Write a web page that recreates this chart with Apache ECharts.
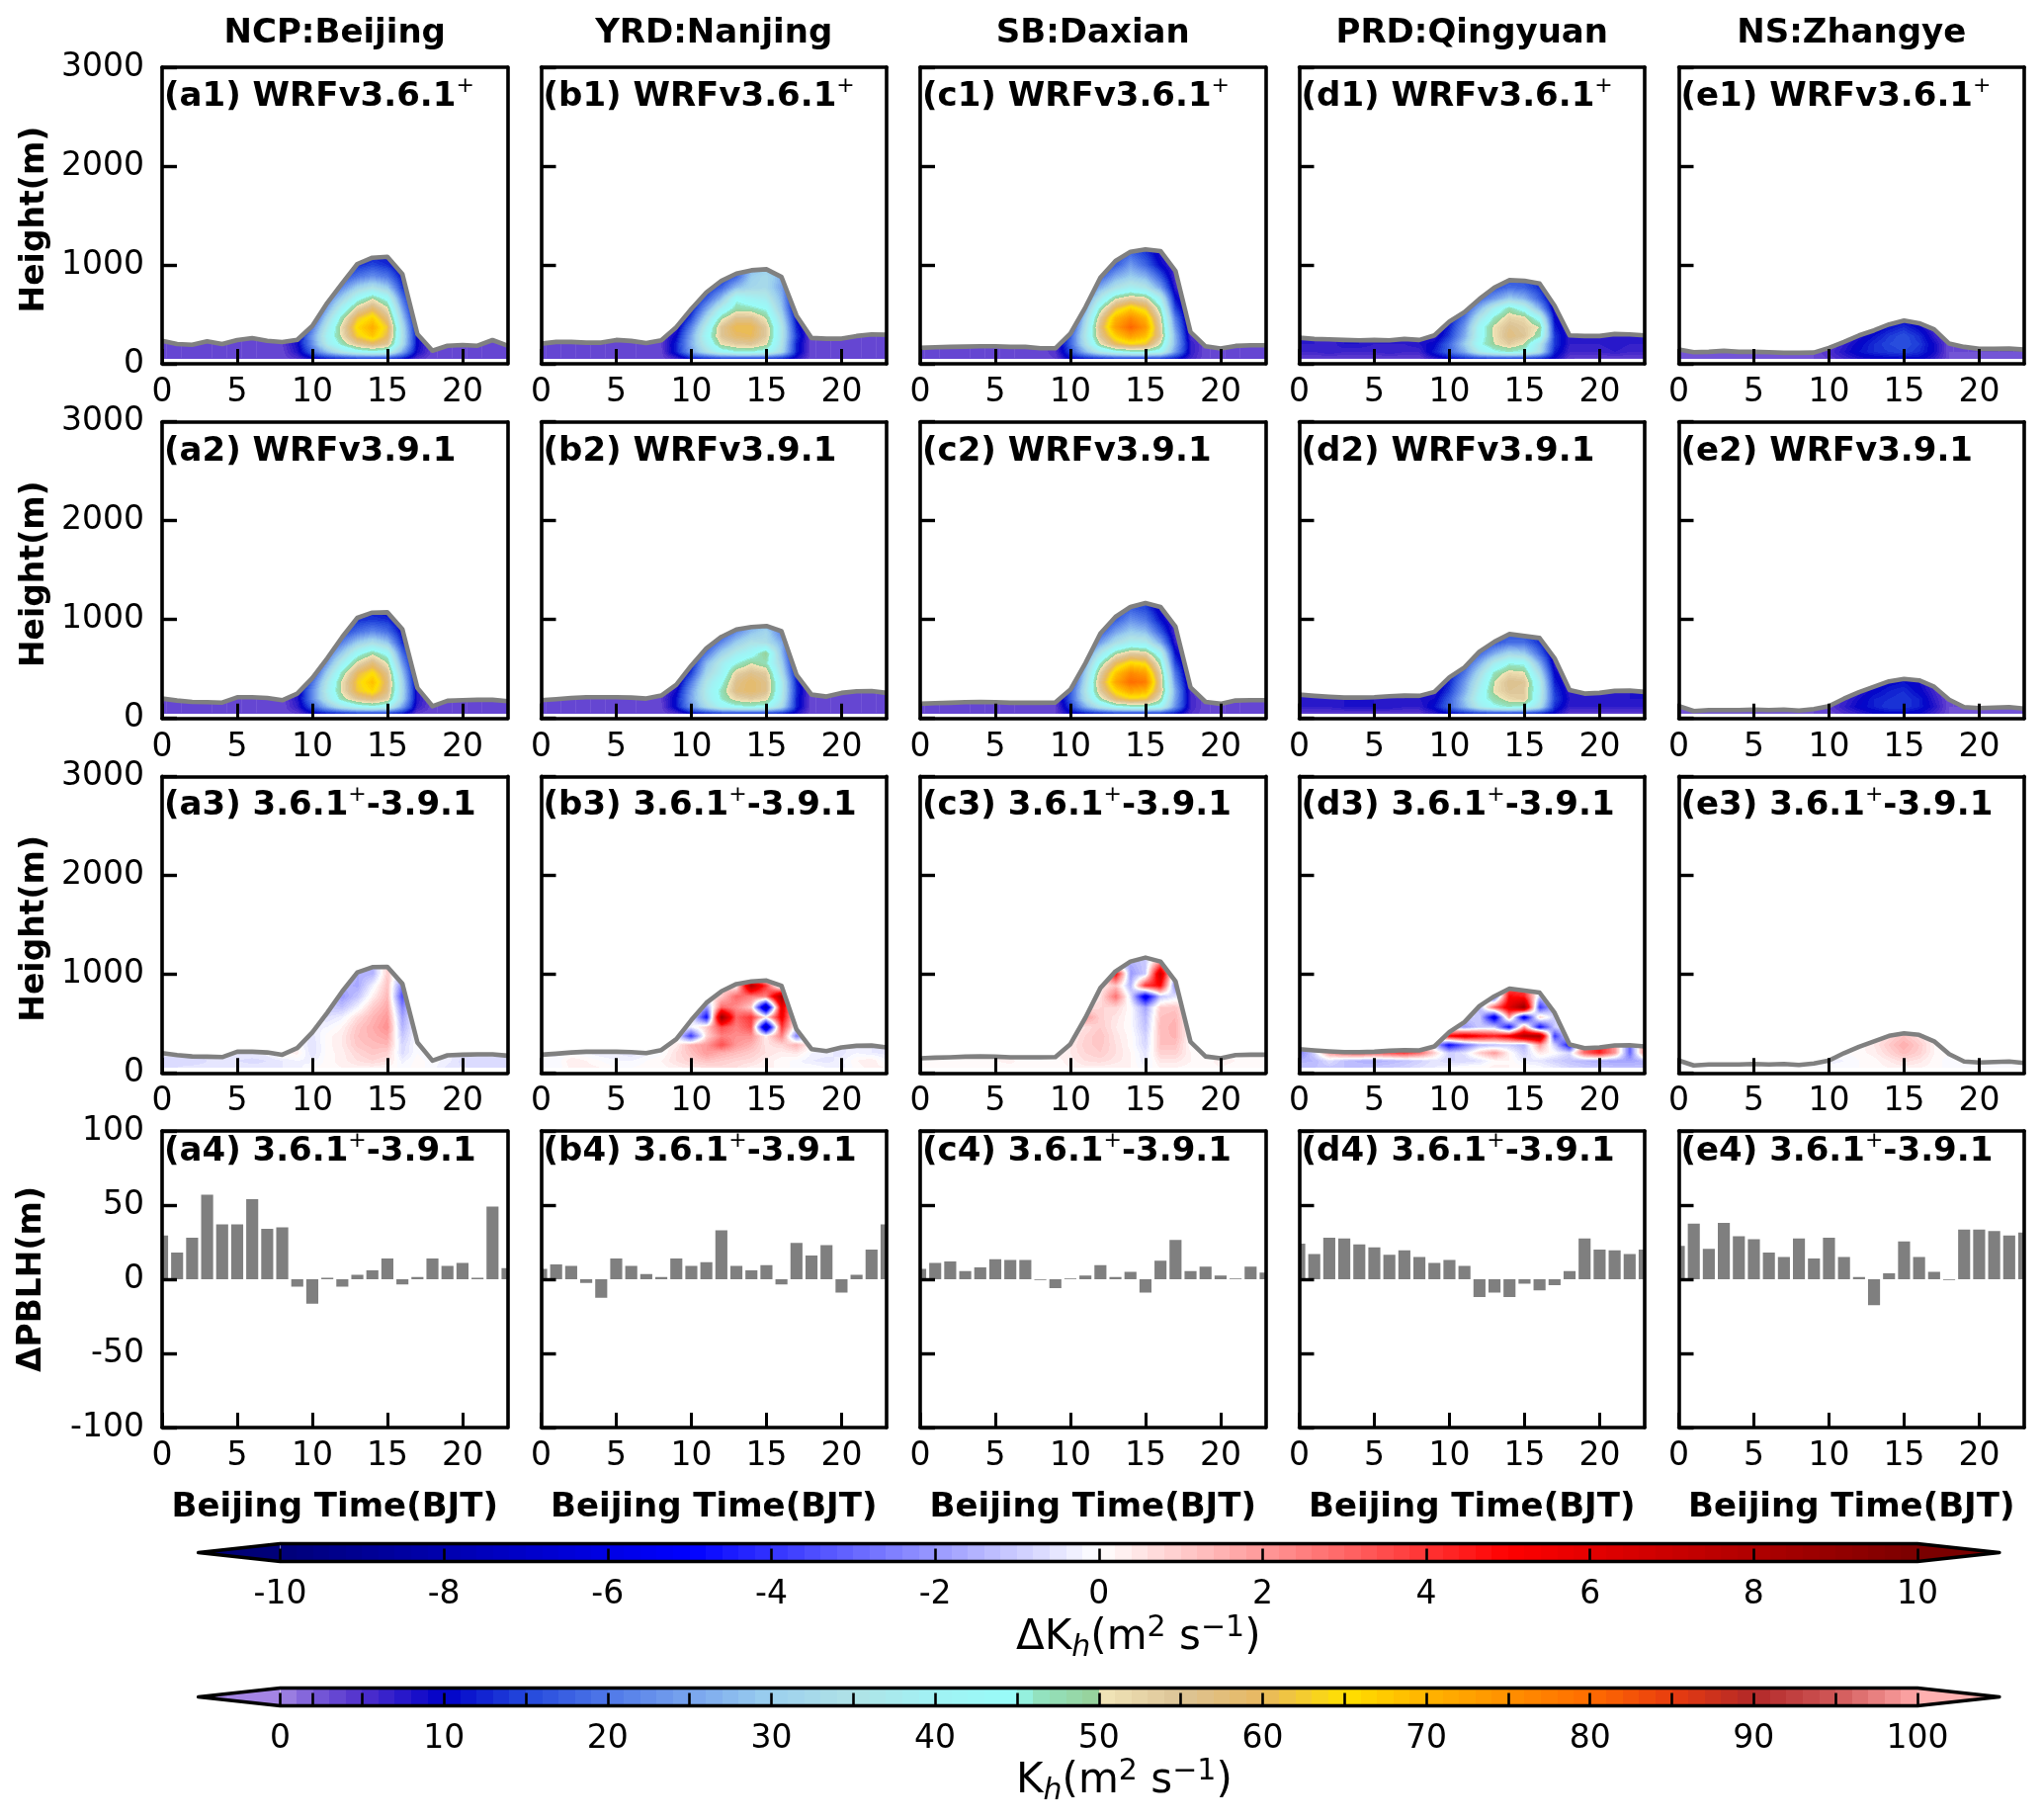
<!DOCTYPE html>
<html><head><meta charset="utf-8">
<style>html,body{margin:0;padding:0;background:#fff}#c{width:2067px;height:1841px}</style>
<script src="https://cdn.jsdelivr.net/npm/echarts@6/dist/echarts.min.js"></script>
</head><body><div id="c"></div>
<script>
// ---------- data ----------
const siteTitles=['NCP:Beijing','YRD:Nanjing','SB:Daxian','PRD:Qingyuan','NS:Zhangye'];
const letters=['a','b','c','d','e'];
const lowLevels=[50,120,200];          // rows with all 24 hours
const highLevels=[280,370,460,560,660,770,880,1000,1120]; // rows with hours 9..18
const topLevel=1200;
const dayStart=9;

const pblh_a1=[233,200,193,227,200,240,260,233,220,243,383,617,817,1010,1073,1083,907,300,133,183,190,183,240,183];
const pblh_a2=[201,181,167,164,160,214,214,207,184,251,409,609,825,1017,1070,1073,902,308,124,178,184,188,188,174];
const pblh_b1=[204,221,221,214,214,241,231,210,237,371,555,722,839,913,946,956,879,488,261,254,254,281,297,294];
const pblh_b2=[184,194,207,214,214,214,211,201,231,341,535,709,825,899,925,935,882,441,241,221,258,274,277,258];
const pblh_c1=[161,167,171,174,177,177,171,171,157,157,305,572,873,1040,1133,1157,1140,939,321,177,154,181,187,187];
const pblh_c2=[148,154,158,164,167,164,158,158,158,161,291,558,859,1027,1127,1167,1127,927,314,167,148,181,184,184];
const pblh_d1=[264,251,247,241,237,241,237,251,241,287,428,522,656,772,846,839,812,588,287,281,281,301,297,287];
const pblh_d2=[241,228,218,211,211,214,224,231,228,268,415,515,676,776,853,833,813,609,288,251,258,278,281,268];
const pblh_e1=[144,117,121,131,121,121,117,111,111,114,161,221,287,338,398,438,411,348,204,171,151,151,154,144];
const pblh_e2=[125,75,85,85,85,90,85,90,80,95,125,200,265,320,375,400,385,320,190,115,105,110,115,100];

const dPblh_a=[29.5,18,28,57,37,37,54,34,35,-5,-16.5,1,-5,3,6,14,-3.5,1.5,14,9,11,1,49,7.5];
const dPblh_b=[7,10,9,-2.5,-12.5,14,9,3.5,1.5,14,9,11.5,33,9,6,9.5,-3.5,24.5,16,23,-9,3,20,37];
const dPblh_c=[7,11,12,5.5,8,13.5,13,13,-0.5,-6,0.5,2.5,9.5,1.5,5,-9,12.5,26.5,5.5,8.5,2.5,0.5,8.5,4.5];
const dPblh_d=[24,17,28,27.5,23.5,21.5,16.5,19.5,15,11,13,9,-12,-9,-12,-3,-7.5,-4,5.5,27.5,20,19.5,17,20];
const dPblh_e=[22.5,37.5,20.5,38,29,27,18,15,27.5,14,28,15,1.5,-17.5,4,25.5,15,5,-0.5,33.5,33.5,32.5,29.5,31.5];

const kh_a1_low=[
[3,3,3,3,3,3,3,3,3,5,9,11,12,13,13,13,11,5,3,3,3,3,3,3],
[3,3,3,3,3,3,3,3,3.5,8,18,28,36,42,44,42,26,9,3,3,3,3,3,3],
[3,3,3,3,3,3,3,3,4,9,23,38,47,55,59,55,34,10,3,3,3,3,3,3]];
const kh_a1_high=[
[8,24,40,51,63,68,60,35,10,3],[6,20,37,52,66,71,62,34,9,3],[5,14,32,48,62,67,57,30,7,3],
[5,10,25,40,53,59,51,25,5,3],[5,8,20,31,43,50,43,20,5,3],[5,6,14,22,31,35,30,14,5,3],
[5,6,10,15,20,23,20,11,5,3],[5,6,8,10,13,15,13,8,5,3],[5,5,6,8,10,11,10,7,5,3]];
const kh_a2_low=[
[3,3,3,3,3,3,3,3,3,4,9,11,12,13,13,13,11,4,3,3,3,3,3,3],
[3,3,3,3,3,3,3,3,3,7,17,27,36,42,44,41,25,7,3,3,3,3,3,3],
[3,3,3,3,3,3,3,3,3,8,22,36,48,55,58,53,32,8,3,3,3,3,3,3]];
const kh_a2_high=[
[7,22,38,51,62,66,57,33,8,3],[6,19,36,51,63,69,58,32,7,3],[5,13,31,47,60,65,56,29,6,3],
[5,10,24,39,52,58,50,24,5,3],[5,8,19,30,43,49,43,19,5,3],[5,6,13,21,30,34,29,13,5,3],
[5,6,10,14,19,22,19,10,5,3],[5,6,8,10,13,14,13,8,5,3],[5,5,6,8,10,11,9,7,5,3]];
const kh_b1_low=[
[3,3,3,3,3,3,3,3,3,6,11,12,13,13,13,13,12,8,3,3,3,3,3,3],
[3,3,3,3,3,3,3,3,3.5,12,24,34,42,45,45,43,33,12,3,3,3,3,3,3],
[3,3,3,3,3,3,3,3,4,12,26,39,51,54,55,51,35,12,3,3,3,3,3,3]];
const kh_b1_high=[
[10,25,42,55,59,60,54,36,14,3],[7,21,39,55,61,61,54,36,12,3],[5,15,33,49,56,56,50,33,10,3],
[5,10,25,39,48,47,44,29,7,3],[5,9,17,28,44,40,38,27,5,3],[5,8,12,18,28,32,33,25,5,3],
[5,8,10,12,18,30,33,26,5,3],[5,8,10,12,14,25,28,20,5,3]];
const kh_b2_low=[
[3,3,3,3,3,3,3,3,3,5,10,12,13,13,13,13,12,8,3,3,3,3,3,3],
[3,3,3,3,3,3,3,3,3.5,11,23,33,41,44,45,43,33,12,3,3,3,3,3,3],
[3,3,3,3,3,3,3,3,4,11,25,37,46,52,54,52,37,12,3,3,3,3,3,3]];
const kh_b2_high=[
[9,24,38,47,57,59,56,38,13,3],[6,20,36,44,56,59,56,38,12,3],[5,14,32,40,53,56,54,34,10,3],
[5,10,28,38,45,50,47,31,7,3],[5,9,20,31,38,42,50,28,5,3],[5,8,13,22,30,35,34,26,5,3],
[5,8,10,14,22,28,32,20,5,3],[5,8,10,12,16,24,22,14,5,3]];
const kh_c1_low=[
[3,3,3,3,3,3,3,3,3,4,10,11,12,13,13,13,13,11,6,3,3,3,3,3],
[3,3,3,3,3,3,3,3,3,5,15,27,37,43,45,45,42,24,7,3,3,3,3,3],
[3,3,3,3,3,3,3,3,3,5,18,34,50,60,64,62,50,27,7,3,3,3,3,3]];
const kh_c1_high=[
[4,17,36,55,67,73,69,55,27,5],[3,13,34,57,73,81,74,54,24,4],[3,10,31,54,70,76,70,52,21,3],
[3,7,25,47,61,67,62,47,15,3],[3,6,20,37,50,54,52,39,11,3],[3,5,13,26,35,39,36,25,7,3],
[3,5,9,17,26,30,27,17,5,3],[3,5,8,11,17,24,18,10,5,3],[3,5,7,9,13,18,14,8,5,3]];
const kh_c2_low=[
[3,3,3,3,3,3,3,3,3,4,9,11,12,13,13,13,13,11,5,3,3,3,3,3],
[3,3,3,3,3,3,3,3,3,4,14,26,36,43,45,45,42,23,6,3,3,3,3,3],
[3,3,3,3,3,3,3,3,3,4,17,33,48,59,63,62,50,25,6,3,3,3,3,3]];
const kh_c2_high=[
[4,16,35,54,66,72,70,55,26,5],[3,12,33,56,72,80,78,55,23,4],[3,10,30,53,68,76,73,53,20,3],
[3,7,25,46,60,66,64,48,15,3],[3,6,19,36,49,54,53,41,11,3],[3,5,12,24,34,39,38,26,7,3],
[3,5,9,16,25,30,28,17,5,3],[3,5,8,11,17,23,20,11,5,3],[3,5,7,9,13,17,15,8,5,3]];
const kh_d1_low=[
[3.5,3.5,3.5,3.5,3.5,3.5,3.5,3.5,3.5,7,10,12,13,13,13,13,12,9,4,3.5,3.5,3.5,3.5,3.5],
[6,6,7,6,6,6,7,6,6,12,18,26,38,44,46,44,34,12,6,6,6,7,6,6],
[7,7,6,8,8,7,7,7,8,10,18,30,44,50,54,50,36,14,7,7,7,8,7,7]];
const kh_d1_high=[
[7,14,26,42,51,57,55,47,14,7],[6,12,24,42,51,56,54,50,12,6],[5,10,20,36,47,53,52,42,10,5],
[5,9,15,27,39,48,42,26,7,4],[5,8,12,18,24,30,27,17,6,4],[5,8,11,14,16,19,18,13,6,4],
[5,8,10,12,14,15,15,12,6,4]];
const kh_d2_low=[
[4,4,4,4,4,4,4,4,4,7,10,12,13,13,13,13,12,9,4,4,4,4,4,4],
[7,7,7,8,8,8,8,7,7,11,18,27,38,44,46,44,34,13,7,7,7,7,7,7],
[7,7,8,8,8,8,7,8,8,9,17,29,42,48,52,54,38,15,8,7,8,7,8,8]];
const kh_d2_high=[
[7,14,26,40,51,55,54,39,14,7],[6,12,24,37,50,56,55,38,12,6],[5,10,20,33,47,52,51,33,10,5],
[5,9,16,26,38,45,44,26,7,4],[5,8,12,18,26,32,30,18,6,4],[5,8,11,13,16,19,19,13,6,4],
[5,8,10,12,14,15,15,12,6,4]];
const kh_e1_low=[
[2.5,2.5,2.5,2.5,2.5,2.5,2.5,2.5,2.5,3,4,6,8,9,10,10,10,7,3,2.5,2.5,2.5,2.5,2.5],
[3,3,3,3,3,3,3,3,3,3,5,8,11,13,14,15,13,9,3,3,3,3,3,3],
[3,3,3,3,3,3,3,3,3,3,4,7,10,13,15,16,14,9,3,3,3,3,3,3]];
const kh_e1_high=[[3,3,5,8,11,14,16,13,7,3],[3,3,4,6,8,11,13,10,5,3],[3,3,3,5,7,9,10,8,4,3]];
const kh_e2_low=[
[2.5,2.5,2.5,2.5,2.5,2.5,2.5,2.5,2.5,3,3,5,7,9,10,10,9,6,3,2.5,2.5,2.5,2.5,2.5],
[3,3,3,3,3,3,3,3,3,3,4,7,10,12,14,14,12,8,3,3,3,3,3,3],
[3,3,3,3,3,3,3,3,3,3,4,6,9,12,13,14,12,7,3,3,3,3,3,3]];
const kh_e2_high=[[3,3,5,7,10,12,13,10,6,3],[3,3,4,6,8,10,11,9,5,3],[3,3,3,5,6,8,9,7,4,3]];

const dk_a_low=[
[-.6,-.6,-.5,-.5,-.5,-.4,-.5,-.5,-.4,-.3,0,.1,.2,.3,.3,.2,-.1,.1,-.1,-.5,-.6,-.6,-.6,-.6],
[-.7,-.7,-.8,-.6,-.6,-.6,-.7,-.6,-.4,-.2,-.3,.1,.3,.6,.8,.6,-.3,.1,-.1,-.3,-.7,-.8,-.7,-.7],
[-.5,-.5,-.5,-.4,-.4,-.4,-.4,-.3,.3,.3,-.6,.1,.3,.8,1.1,.9,-.7,0,-.3,-.3,-.5,-.5,-.5,-.5]];
const dk_a_high=[
[0,-.6,.1,.4,1.1,1.3,1.4,-.8,0,0],[0,-.5,.1,.4,1.2,1.5,1.8,-1.1,0,0],[0,-.3,-.2,.2,1.1,1.6,2.2,-1.5,0,0],
[0,-.2,-.6,-.3,.7,1.4,2,-1.8,0,0],[0,0,-1,-1.2,-.2,1,1.7,-2.4,0,0],[0,0,-.8,-2,-1.1,.3,1.4,-3.5,0,0],
[0,0,-.5,-1.4,-1.7,-.3,1.2,-2.5,0,0],[0,0,0,-.5,-1.6,-1.5,1,-1,0,0]];
const dk_b_low=[
[0,-.2,.3,.3,.2,0,0,.1,.1,.3,.5,.6,.7,.6,.3,.2,.2,-.2,0,-.2,-.3,.1,.3,.2],
[-.1,-.2,.4,.2,0,-.2,-.2,0,.2,.6,.9,1.2,1,.8,.7,.3,.1,-.1,-.4,-.5,-.3,.2,.4,-.2],
[-.3,-.2,-.1,-.2,-.4,-.4,-.6,-.3,-.1,.6,1.2,2,1.6,1.3,1,.6,.3,.5,-.2,-.3,-.5,-.2,-.4,-.5]];
const dk_b_high=[
[.3,1.5,2,3.5,2,1.5,.5,.8,1.5,0],[0,-4,.8,2.5,2.2,2.2,.3,2.5,-2.5,0],[0,-.3,1,3.5,2.5,3.5,-8,4,-.5,0],
[0,0,-5,9,3,4,.5,5.5,0,0],[0,0,-2,3,2.2,1,-8,6,0,0],[0,0,0,1,3,2.5,2.5,8.5,0,0],
[0,0,0,1,0,8,4,-2,0,0],[0,0,0,0,0,0,-3,0,0,0]];
const dk_c_low=[
[0,0,.1,.1,.1,0,.1,.1,.1,.1,.2,.3,.3,.2,.2,-.2,.2,.2,.1,.1,.2,.1,.1,.1],
[.1,.2,.2,.1,0,.2,.3,0,0,.1,.3,.6,.7,.5,.2,-.4,.5,.5,.2,.1,.3,.2,.1,.1],
[.1,.1,.1,.1,.1,.1,.1,-.1,-.2,.2,.4,.8,1,.6,.2,-.5,.9,.9,.2,.1,.1,.1,.1,0]];
const dk_c_high=[
[0,.4,.9,1.1,.6,.1,-.8,1.2,1.2,0],[0,.3,.8,1.2,.5,.1,-.9,1.2,1.5,0],[0,.2,.6,1,.4,0,-1.2,1.3,1.5,0],
[0,0,2,.9,.5,0,-1.4,1.2,1.4,0],[0,0,.4,.8,.8,0,-1.8,1,1.1,0],[0,0,0,.5,2.8,-.6,-6,-1.2,-.5,0],
[0,0,0,.2,1.2,-1.5,4,5,-2.5,0],[0,0,0,0,5,-2,-1,7,-1.5,0],[0,0,0,0,-3,-1.5,-1,2,-1,0]];
const dk_d_low=[
[-1.2,-1.2,-1.1,-1.2,-1.2,-1.1,-1,-.9,-.6,-.4,-.2,.1,.1,.3,.2,.1,-.1,-.4,-.8,-1,-1.1,-1.2,-1.2,-1.3],
[-1.5,-1.4,-.6,-1.2,-1.5,-1.6,-1.4,-1.2,-.9,-.5,-.8,-.8,-.6,.1,.2,-.4,-.5,-.9,-1.2,-1.4,-1.6,-1.8,-1.8,-1.5],
[-2.5,-.8,2,3,3.5,3,3.5,4,3,1,-1,-.5,1,2,.2,-1,.5,0,-.8,3,4.5,2,-3,2.5]];
const dk_d_high=[
[-1,-5,-3,-1.5,-1.2,-1,-1.5,2,-1,-5],[0,5,6,5,4.5,5.5,8,8.5,-4,0],[0,-1,-2,-1,-1,-5,2,-5,-1,0],
[0,0,-1,-1,-6,2,-6,1,-1,0],[0,0,0,-1.5,3,6,9,-4,-1,0],[0,0,0,0,-3.5,5,4.5,-1,0,0],[0,0,0,0,0,3,3,0,0,0]];
const dk_e_low=[
[-.1,-.1,-.1,-.1,-.1,-.1,-.1,-.1,-.1,0,-.1,-.1,0,.1,.2,.3,.2,.1,-.1,-.1,-.1,-.1,-.1,-.1],
[-.1,-.1,-.1,-.1,-.1,-.1,-.1,-.1,-.1,-.1,-.3,-.2,0,.1,.4,.7,.5,.1,-.1,-.1,-.1,-.1,-.1,-.1],
[0,0,0,0,0,0,0,0,0,-.1,-.2,0,.1,.3,.8,1.3,.9,.2,0,0,0,0,0,0]];
const dk_e_high=[[0,0,0,.1,.4,1,1.6,1,.2,0],[0,0,0,0,.2,.7,1.2,.6,.1,0]];

const kTicks=[0,2,5,10,15,20,25,30,35,40,45,50,55,60,65,70,75,80,85,90,95,100];
const kLabels=[0,10,20,30,40,50,60,70,80,90,100];
const dkTicks=[-10,-8,-6,-4,-2,0,2,4,6,8,10];
const barFraction=0.8;

// colour scales
const kStops=[0,2,5,10,15,20,25,30,35,40,45,46,50,50.01,55,60,65,70,75,80,85,90,95,100];
const kColors=['#a488e4','#7a5cd8','#5030cc','#0000c8','#2448dc','#4f78e8','#78a4ee','#9cd0ee','#b0e2e6','#a0f2f4','#98fcf8','#92e4c4','#98d098','#f2e6ba','#dcc496','#e8b860','#ffe000','#ffb400','#ff9000','#ff6c00','#e83c10','#b22828','#d05858','#ffa8a8'];
const kUnder='#a484e4', kOver='#ffb0b0';
const dStops=[-10,-5,0,5,10];
const dColors=['#000078','#0000ff','#ffffff','#ff0000','#7a0000'];

// ---------- helpers ----------
const FONT='DejaVu Sans';
const hex=c=>[1,3,5].map(i=>parseInt(c.substr(i,2),16));
function ramp(stops,cols,v){
  if(v<=stops[0])return hex(cols[0]);
  for(let i=1;i<stops.length;i++){ if(v<=stops[i]){const t=(v-stops[i-1])/(stops[i]-stops[i-1]);const a=hex(cols[i-1]),b=hex(cols[i]);return a.map((x,k)=>Math.round(x+(b[k]-x)*t));}}
  return hex(cols[cols.length-1]);
}
const kSteps=[];for(let i=0;i<100;i++)kSteps.push(ramp(kStops,kColors,i+.5));
const dSteps=[];for(let i=0;i<100;i++)dSteps.push(ramp(dStops,dColors,-10+.2*i+.1));
const kLookup=v=>v<0?hex(kUnder):v>=100?hex(kOver):kSteps[Math.floor(v)];
const dLookup=v=>v<-10?hex(dColors[0]):v>=10?hex(dColors[4]):dSteps[Math.min(99,Math.floor((v+10)/.2))];
const allLevels=lowLevels.concat(highLevels,[topLevel]);
function fieldOf(low,high){
  return (h,zi)=>{
    if(zi<lowLevels.length)return low[zi][h];
    if(h<dayStart||h>=dayStart+10)return low[lowLevels.length-1][h];
    const r=Math.min(zi-lowLevels.length,high.length-1);
    return high[r][h-dayStart];
  };
}
function renderCell(field,pblh,lookup){
  return function(params,api){
    const h=api.value(0),zi=api.value(2),z0=allLevels[zi],z1=allLevels[zi+1];
    if(z0>Math.max(pblh[h],pblh[h+1]))return null;
    const a=api.coord([h,z0]),b=api.coord([h+1,z1]);
    const x0=Math.round(a[0]),x1=Math.round(b[0]),yB=Math.round(a[1]),yT=Math.round(b[1]);
    const w=x1-x0,ht=yB-yT; if(w<=0||ht<=0)return null;
    const cv=document.createElement('canvas');cv.width=w;cv.height=ht;
    const ctx=cv.getContext('2d'),img=ctx.createImageData(w,ht);
    const f00=field(h,zi),f10=field(h+1,zi),f01=field(h,zi+1),f11=field(h+1,zi+1);
    for(let py=0;py<ht;py++){const tz=(ht-py-.5)/ht,zz=z0+tz*(z1-z0);
      for(let px=0;px<w;px++){const tx=(px+.5)/w;
        const top=pblh[h]+(pblh[h+1]-pblh[h])*tx; if(zz>top)continue;
        const v=(f00*(1-tx)+f10*tx)*(1-tz)+(f01*(1-tx)+f11*tx)*tz;
        const c=lookup(v),o=(py*w+px)*4;
        img.data[o]=c[0];img.data[o+1]=c[1];img.data[o+2]=c[2];img.data[o+3]=255;
      }}
    ctx.putImageData(img,0,0);
    return {type:'image',style:{image:cv,x:x0,y:yT,width:w,height:ht}};
  };
}
// ---------- layout ----------
const colX=[164,547.5,931,1314.5,1698.5],axW=349.5,rowY=[68,426.7,785.3,1144],axH=300;
const hours=Array.from({length:24},(_,i)=>i);
const grids=[],xAxes=[],yAxes=[],series=[],titles=[];
const lineAx={show:true,onZero:false,lineStyle:{color:'#000',width:3.6}};
const richLabel={
  b:{fontFamily:FONT,fontWeight:'bold',fontSize:34,lineHeight:44,color:'#000'},
  s:{fontFamily:FONT,fontWeight:'normal',fontSize:22,lineHeight:22,verticalAlign:'top',color:'#000'}
};
const rowFields=[
 ['a1','b1','c1','d1','e1'],['a2','b2','c2','d2','e2'],['a','b','c','d','e']];
const SRC={a1:[kh_a1_low,kh_a1_high,pblh_a1],b1:[kh_b1_low,kh_b1_high,pblh_b1],c1:[kh_c1_low,kh_c1_high,pblh_c1],d1:[kh_d1_low,kh_d1_high,pblh_d1],e1:[kh_e1_low,kh_e1_high,pblh_e1],
 a2:[kh_a2_low,kh_a2_high,pblh_a2],b2:[kh_b2_low,kh_b2_high,pblh_b2],c2:[kh_c2_low,kh_c2_high,pblh_c2],d2:[kh_d2_low,kh_d2_high,pblh_d2],e2:[kh_e2_low,kh_e2_high,pblh_e2],
 a:[dk_a_low,dk_a_high,pblh_a2],b:[dk_b_low,dk_b_high,pblh_b2],c:[dk_c_low,dk_c_high,pblh_c2],d:[dk_d_low,dk_d_high,pblh_d2],e:[dk_e_low,dk_e_high,pblh_e2]};
const dPblh=[dPblh_a,dPblh_b,dPblh_c,dPblh_d,dPblh_e];
const labelTail=[['{b|WRFv3.6.1}{s|+}'],['{b|WRFv3.9.1}'],['{b|3.6.1}{s|+}{b|-3.9.1}'],['{b|3.6.1}{s|+}{b|-3.9.1}']];
const labelOffset=[30,30,30,21];

for(let r=0;r<4;r++)for(let c=0;c<5;c++){
  const gi=grids.length;
  grids.push({left:colX[c],top:rowY[r],width:axW,height:axH,show:false});
  const xi=xAxes.length;
  xAxes.push({gridIndex:gi,type:'value',min:0,max:23,interval:5,position:'bottom',z:10,splitLine:{show:false},
    axisLine:lineAx,axisTick:{show:true,inside:true,length:15,lineStyle:{color:'#000',width:3}},
    axisLabel:{show:true,showMaxLabel:false,margin:13,fontFamily:FONT,fontSize:33,color:'#000'},
    name:r===3?'Beijing Time(BJT)':'',nameLocation:'middle',nameGap:64,
    nameTextStyle:{fontFamily:FONT,fontWeight:'bold',fontSize:34,color:'#000'}});
  xAxes.push({gridIndex:gi,type:'value',min:0,max:23,position:'top',z:10,splitLine:{show:false},axisLine:lineAx,axisTick:{show:false},axisLabel:{show:false}});
  const yi=yAxes.length;
  const yCfg=r===3?{min:-100,max:100,interval:50}:{min:0,max:3000,interval:1000};
  yAxes.push(Object.assign({gridIndex:gi,type:'value',position:'left',z:10,splitLine:{show:false},
    axisLine:lineAx,axisTick:{show:true,inside:true,length:15,lineStyle:{color:'#000',width:3.4}},
    axisLabel:{show:c===0,margin:18,fontFamily:FONT,fontSize:33,color:'#000',padding:[3,0,0,0],formatter:v=>String(v)},
    name:c===0?(r===3?'ΔPBLH(m)':'Height(m)'):'',nameLocation:'middle',nameGap:r===3?115:112,
    nameTextStyle:{fontFamily:FONT,fontWeight:'bold',fontSize:33,color:'#000',padding:r===3?0:[0,8,0,0]}},yCfg));
  yAxes.push(Object.assign({gridIndex:gi,type:'value',position:'right',z:10,splitLine:{show:false},axisLine:lineAx,axisTick:{show:false},axisLabel:{show:false}},yCfg));
  if(r<3){
    const src=SRC[rowFields[r][c]],field=fieldOf(src[0],src[1]),pb=src[2];
    const cells=[];
    for(let h=0;h<23;h++)for(let zi=0;zi<allLevels.length-1;zi++)cells.push([h,allLevels[zi],zi,field(h,zi)]);
    series.push({type:'custom',xAxisIndex:xi,yAxisIndex:yi,coordinateSystem:'cartesian2d',clip:true,silent:true,z:2,
      encode:{x:0,y:1},data:cells,animation:false,renderItem:renderCell(field,pb,r<2?kLookup:dLookup)});
    series.push({type:'line',xAxisIndex:xi,yAxisIndex:yi,data:hours.map(h=>[h,pb[h]]),symbol:'none',clip:true,silent:true,z:3,
      lineStyle:{color:'#808080',width:4.6,join:'round'},animation:false});
  }else{
    series.push({type:'custom',xAxisIndex:xi,yAxisIndex:yi,coordinateSystem:'cartesian2d',clip:true,silent:true,z:2,animation:false,
      encode:{x:0,y:1},data:hours.map(h=>[h,dPblh[c][h]]),
      renderItem:(p,api)=>{const h=api.value(0),v=api.value(1);
        const a=api.coord([h-barFraction/2,Math.max(v,0)]),b=api.coord([h+barFraction/2,Math.min(v,0)]);
        return {type:'rect',shape:{x:a[0],y:a[1],width:b[0]-a[0],height:b[1]-a[1]},style:{fill:'#7f7f7f'}};}});
  }
  titles.push({text:`{b|(${letters[c]}${r+1}) }`+labelTail[r][0],left:colX[c]+2,top:rowY[r]+labelOffset[r]-22,padding:0,itemGap:0,
    textStyle:{rich:richLabel}});
}
siteTitles.forEach((t,c)=>titles.push({text:t,left:colX[c]+axW/2,textAlign:'center',top:17,padding:0,
  textStyle:{fontFamily:FONT,fontWeight:'bold',fontSize:34,color:'#000'}}));

// colour bars
const richCb={
  r:{fontFamily:FONT,fontWeight:'normal',fontSize:42,lineHeight:50,color:'#000'},
  i:{fontFamily:FONT,fontWeight:'normal',fontSize:30,lineHeight:26,fontStyle:'italic',verticalAlign:'bottom',color:'#000'},
  u:{fontFamily:FONT,fontWeight:'normal',fontSize:30,lineHeight:26,verticalAlign:'top',color:'#000'}
};
function addBar(top,lo,hi,steps,under,over,tickVals,labelVals){
  const gi=grids.length;
  grids.push({left:283.5,width:1656.5,top:top,height:18,show:false});
  const xi=xAxes.length,yi=yAxes.length;
  xAxes.push({gridIndex:gi,type:'value',min:lo,max:hi,position:'bottom',z:10,splitLine:{show:false},axisLine:{show:false},
    axisTick:{show:true,inside:true,length:13,customValues:tickVals,lineStyle:{color:'#000',width:2.6}},
    axisLabel:{show:true,customValues:labelVals,margin:17,fontFamily:FONT,fontSize:33,color:'#000'}});
  yAxes.push({gridIndex:gi,type:'value',min:0,max:1,show:false});
  const d=(hi-lo)/steps.length,ext=(hi-lo)/20;
  series.push({type:'custom',xAxisIndex:xi,yAxisIndex:yi,clip:false,silent:true,animation:false,z:2,
    encode:{x:0,y:1},data:steps.map((s,i)=>[lo+i*d,0,lo+(i+1)*d,i]),
    renderItem:(p,api)=>{const a=api.coord([api.value(0),0]),b=api.coord([api.value(2),1]),s=steps[api.value(3)];
      const x0=Math.round(a[0]),x1=Math.round(b[0]);
      return {type:'rect',shape:{x:x0,y:b[1],width:x1-x0,height:a[1]-b[1]},style:{fill:`rgb(${s[0]},${s[1]},${s[2]})`}};}});
  const poly=(pts,style)=>({type:'polygon',shape:{points:pts},style});
  series.push({type:'custom',xAxisIndex:xi,yAxisIndex:yi,clip:false,silent:true,animation:false,z:3,
    encode:{x:0,y:1},data:[[lo,0]],
    renderItem:(p,api)=>{const C=(x,y)=>api.coord([x,y]);
      return {type:'group',children:[
        poly([C(lo,0),C(lo,1),C(lo-ext,.5)],{fill:under}),
        poly([C(hi,0),C(hi,1),C(hi+ext,.5)],{fill:over}),
        poly([C(lo-ext,.5),C(lo,1),C(hi,1),C(hi+ext,.5),C(hi,0),C(lo,0)],{fill:'none',stroke:'#000',lineWidth:3.6,lineJoin:'round'})
      ]};}});
}
addBar(1561.5,-10,10,dSteps,dColors[0],dColors[4],dkTicks,dkTicks);
addBar(1707.5,0,100,kSteps,kUnder,kOver,kTicks,kLabels);
titles.push({text:'{r|ΔK}{i|h}{r|(m}{u|2}{r| s}{u|−1}{r|)}',left:1028,top:1632,padding:0,textStyle:{rich:richCb}});
titles.push({text:'{r|K}{i|h}{r|(m}{u|2}{r| s}{u|−1}{r|)}',left:1028,top:1777,padding:0,textStyle:{rich:richCb}});

const chart=echarts.init(document.getElementById('c'),null,{renderer:'canvas'});
chart.setOption({animation:false,backgroundColor:'#fff',textStyle:{fontFamily:FONT},title:titles,grid:grids,xAxis:xAxes,yAxis:yAxes,series:series});
</script></body></html>
